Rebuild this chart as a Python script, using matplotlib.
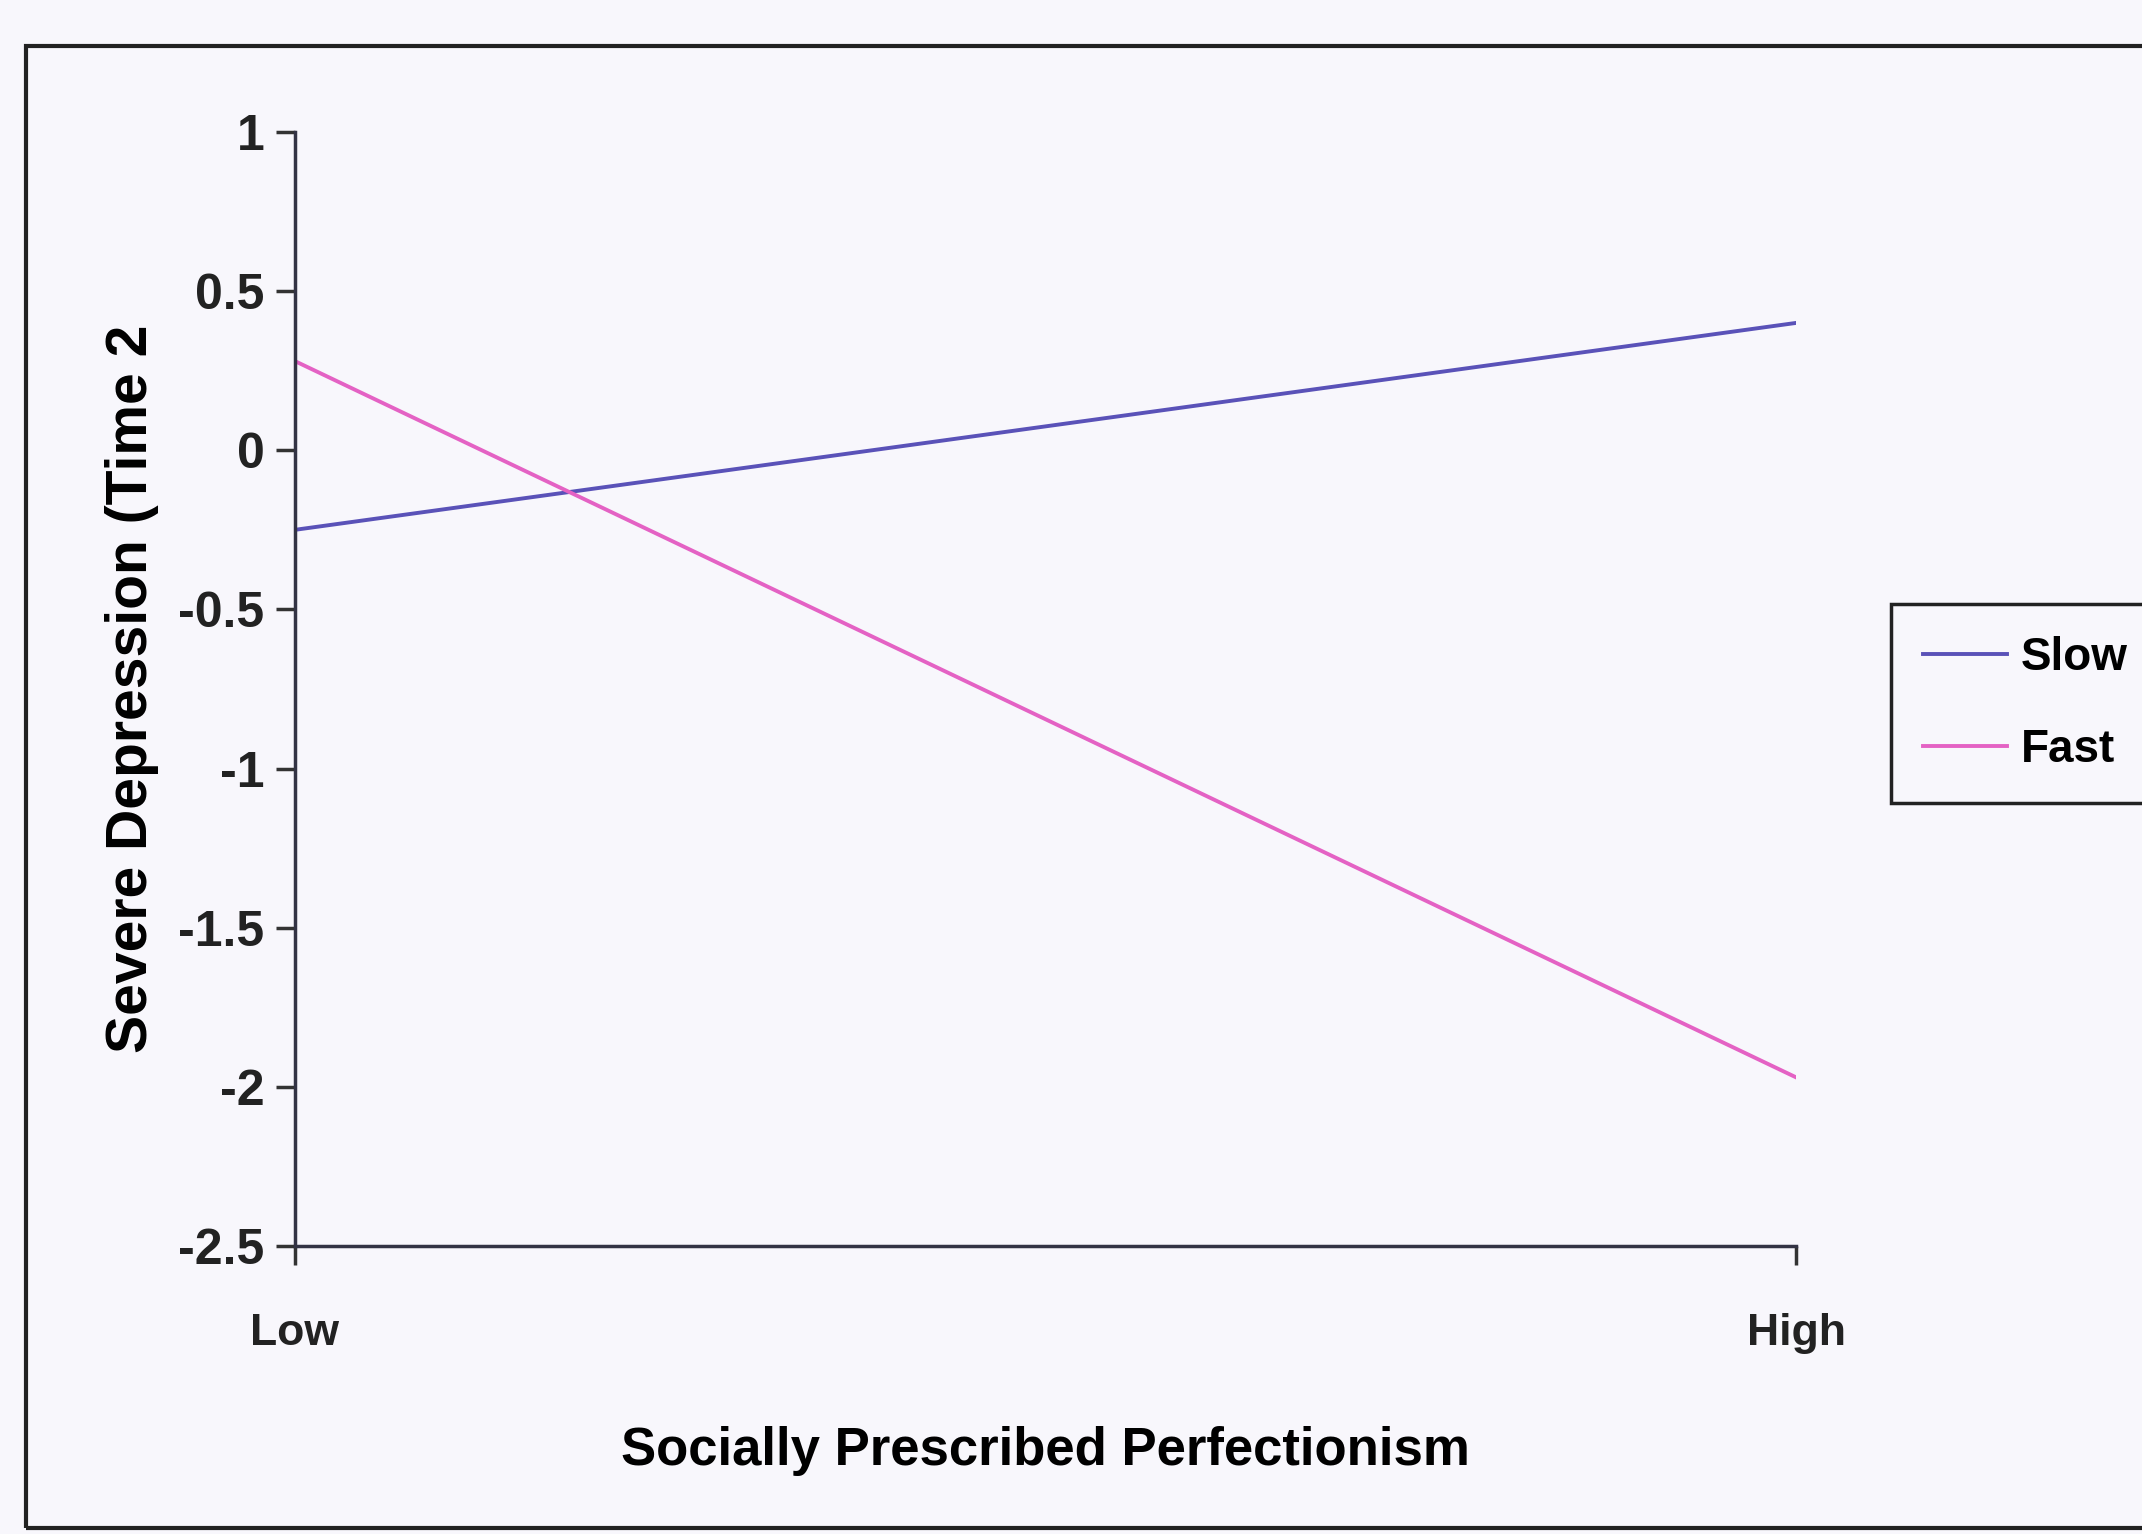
import matplotlib
matplotlib.use("Agg")
import matplotlib.pyplot as plt
from matplotlib.patches import Rectangle

categories = ["Low", "High"]
slow = [-0.25, 0.40]
fast = [0.28, -1.97]
yticks = [1, 0.5, 0, -0.5, -1, -1.5, -2, -2.5]
ytick_labels = ["1", "0.5", "0", "-0.5", "-1", "-1.5", "-2", "-2.5"]

plt.rcParams['font.family'] = ['Liberation Sans', 'DejaVu Sans']

bg = "#f8f7fc"
fig = plt.figure(figsize=(21.42, 15.34), dpi=100, facecolor=bg)
ax = fig.add_axes([0.1377, 0.1877, 0.7008, 0.7263])
ax.set_facecolor(bg)

x = list(range(len(categories)))
ax.plot(x, slow, color="#5a52b8", lw=2.8, label="Slow")
ax.plot(x, fast, color="#e462c4", lw=2.8, label="Fast")

ax.set_xlim(0, 1)
ax.set_ylim(-2.5, 1)
ax.set_yticks(yticks)
ax.set_yticklabels(ytick_labels, fontsize=36, fontweight="bold", color="#222222")
ax.set_xticks(x)
ax.set_xticklabels(categories, fontsize=32, fontweight="bold", color="#222222")
ax.tick_params(axis="y", length=14, width=2.5, color="#333333", pad=8)
ax.tick_params(axis="x", length=14, width=2.5, color="#333333", pad=34)

for s in ["top", "right"]:
    ax.spines[s].set_visible(False)
for s in ["left", "bottom"]:
    ax.spines[s].set_linewidth(2.5)
    ax.spines[s].set_color("#333344")

ax.set_ylabel("Severe Depression (Time 2", fontsize=41, fontweight="bold", labelpad=14)
ax.set_xlabel("Socially Prescribed Perfectionism", fontsize=38, fontweight="bold", labelpad=52)

leg = ax.legend(loc="upper left", bbox_to_anchor=(0.883, 0.606), bbox_transform=fig.transFigure,
                borderaxespad=0, frameon=True, fancybox=False,
                handlelength=1.85, handletextpad=0.3, labelspacing=1.05, borderpad=0.68,
                prop={"weight": "bold", "size": 33})
leg.get_frame().set_edgecolor("#222222")
leg.get_frame().set_linewidth(2.5)
leg.get_frame().set_facecolor(bg)
leg.get_frame().set_alpha(1)

frame = Rectangle((0.012, 0.004), 1.2, 0.966, transform=fig.transFigure, fill=False,
                  edgecolor="#222222", linewidth=3, clip_on=False)
fig.patches.append(frame)

fig.savefig("out.png", dpi=100, facecolor=bg)
